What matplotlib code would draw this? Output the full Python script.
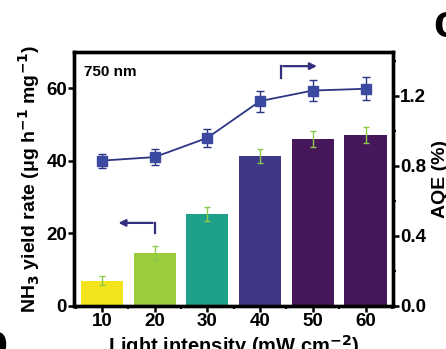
import matplotlib
matplotlib.use("Agg")
import matplotlib.pyplot as plt
from matplotlib.ticker import MultipleLocator

plt.rcParams['font.family'] = ['Liberation Sans', 'DejaVu Sans']
plt.rcParams['font.weight'] = 'bold'
plt.rcParams['mathtext.default'] = 'bf'

# ---- data ----
intensity = [10, 20, 30, 40, 50, 60]
yield_rate = [7.0, 14.6, 25.3, 41.3, 46.0, 47.0]
yield_err = [1.3, 1.9, 1.9, 2.0, 2.1, 2.2]
aqe = [0.83, 0.85, 0.96, 1.17, 1.23, 1.24]
aqe_err = [0.04, 0.045, 0.05, 0.06, 0.06, 0.065]
bar_colors = ['#f4e41c', '#9ccb3c', '#1fa088', '#3f3889', '#46175a', '#46175a']
xtick_labels = ['10', '20', '30', '40', '50', '60']

fig = plt.figure(figsize=(4.46, 3.49), dpi=100)
ax = fig.add_axes([74/446, 1-306/349, (393-74)/446, (306-52)/349])

ax.bar(intensity, yield_rate, width=8, color=bar_colors, zorder=2)
ax.errorbar(intensity, yield_rate, yerr=yield_err, fmt='none', ecolor='#8cc94a',
            elinewidth=1.0, capsize=2, capthick=1.0, zorder=3)

ax.set_xlim(4.7, 65.2)
ax.set_ylim(0, 70)
ax.set_xticks(intensity)
ax.set_xticklabels(xtick_labels)
ax.set_xticks([5, 15, 25, 35, 45, 55, 65], minor=True)
ax.set_yticks([0, 20, 40, 60])

ax2 = ax.twinx()
ax2.plot(intensity, aqe, '-', color='#2c3583', lw=1.3, zorder=4)
ax2.errorbar(intensity, aqe, yerr=aqe_err, fmt='s', color='#3b4aa0', ecolor='#2c3583',
             markersize=7, elinewidth=1.0, capsize=3, capthick=1.0, zorder=5)
ax2.set_ylim(0, 1.45)
ax2.set_yticks([0.0, 0.4, 0.8, 1.2])
ax2.set_yticklabels(['0.0', '0.4', '0.8', '1.2'])
ax2.yaxis.set_minor_locator(MultipleLocator(0.2))

for a in (ax, ax2):
    for s in a.spines.values():
        s.set_linewidth(2.4)
        s.set_color('black')
ax.tick_params(axis='both', which='major', direction='out', length=4, width=1.8,
               labelsize=13.5, pad=1)
ax.tick_params(axis='both', which='minor', direction='out', length=2.5, width=1.5)
ax.tick_params(axis='y', which='minor', left=False)
ax2.tick_params(axis='y', which='major', direction='out', length=4, width=1.8,
                labelsize=13.5, pad=1)
ax2.tick_params(axis='y', which='minor', direction='out', length=2.5, width=1.5)
for lab in ax.get_xticklabels() + ax.get_yticklabels() + ax2.get_yticklabels():
    lab.set_fontweight('bold')

ax.set_ylabel(r'NH$_3$ yield rate (μg h$^{-1}$ mg$^{-1}$)', fontsize=14, fontweight='bold', labelpad=3)
ax.set_xlabel(r'Light intensity (mW cm$^{-2}$)', fontsize=14.5, fontweight='bold', labelpad=2)
ax2.set_ylabel('AQE (%)', fontsize=14, fontweight='bold', labelpad=4)

ax.text(0.03, 0.92, '750 nm', transform=ax.transAxes, fontsize=11, fontweight='bold',
        va='center', ha='left')

arrow_col = '#35307e'
# left-pointing arrow (bars -> left axis)
ax.plot([20, 20], [20.2, 22.9], color=arrow_col, lw=1.6, zorder=6)
ax.annotate('', xy=(12.6, 22.9), xytext=(20.15, 22.9),
            arrowprops=dict(arrowstyle='-|>', color=arrow_col, lw=1.6, mutation_scale=10),
            zorder=6)
# right-pointing arrow (line -> right axis)
ax.plot([44, 44], [62.8, 66.1], color=arrow_col, lw=1.6, zorder=6)
ax.annotate('', xy=(51.3, 66.1), xytext=(43.85, 66.1),
            arrowprops=dict(arrowstyle='-|>', color=arrow_col, lw=1.6, mutation_scale=10),
            zorder=6)

# neighbouring panel letters (cropped)
fig.text(433/446, 1-37/349, 'c', fontsize=33, fontweight='bold', ha='left', va='baseline')
fig.text(-20/446, -8/349, 'b', fontsize=33, fontweight='bold', ha='left', va='baseline')

fig.savefig('out.png', dpi=100)
